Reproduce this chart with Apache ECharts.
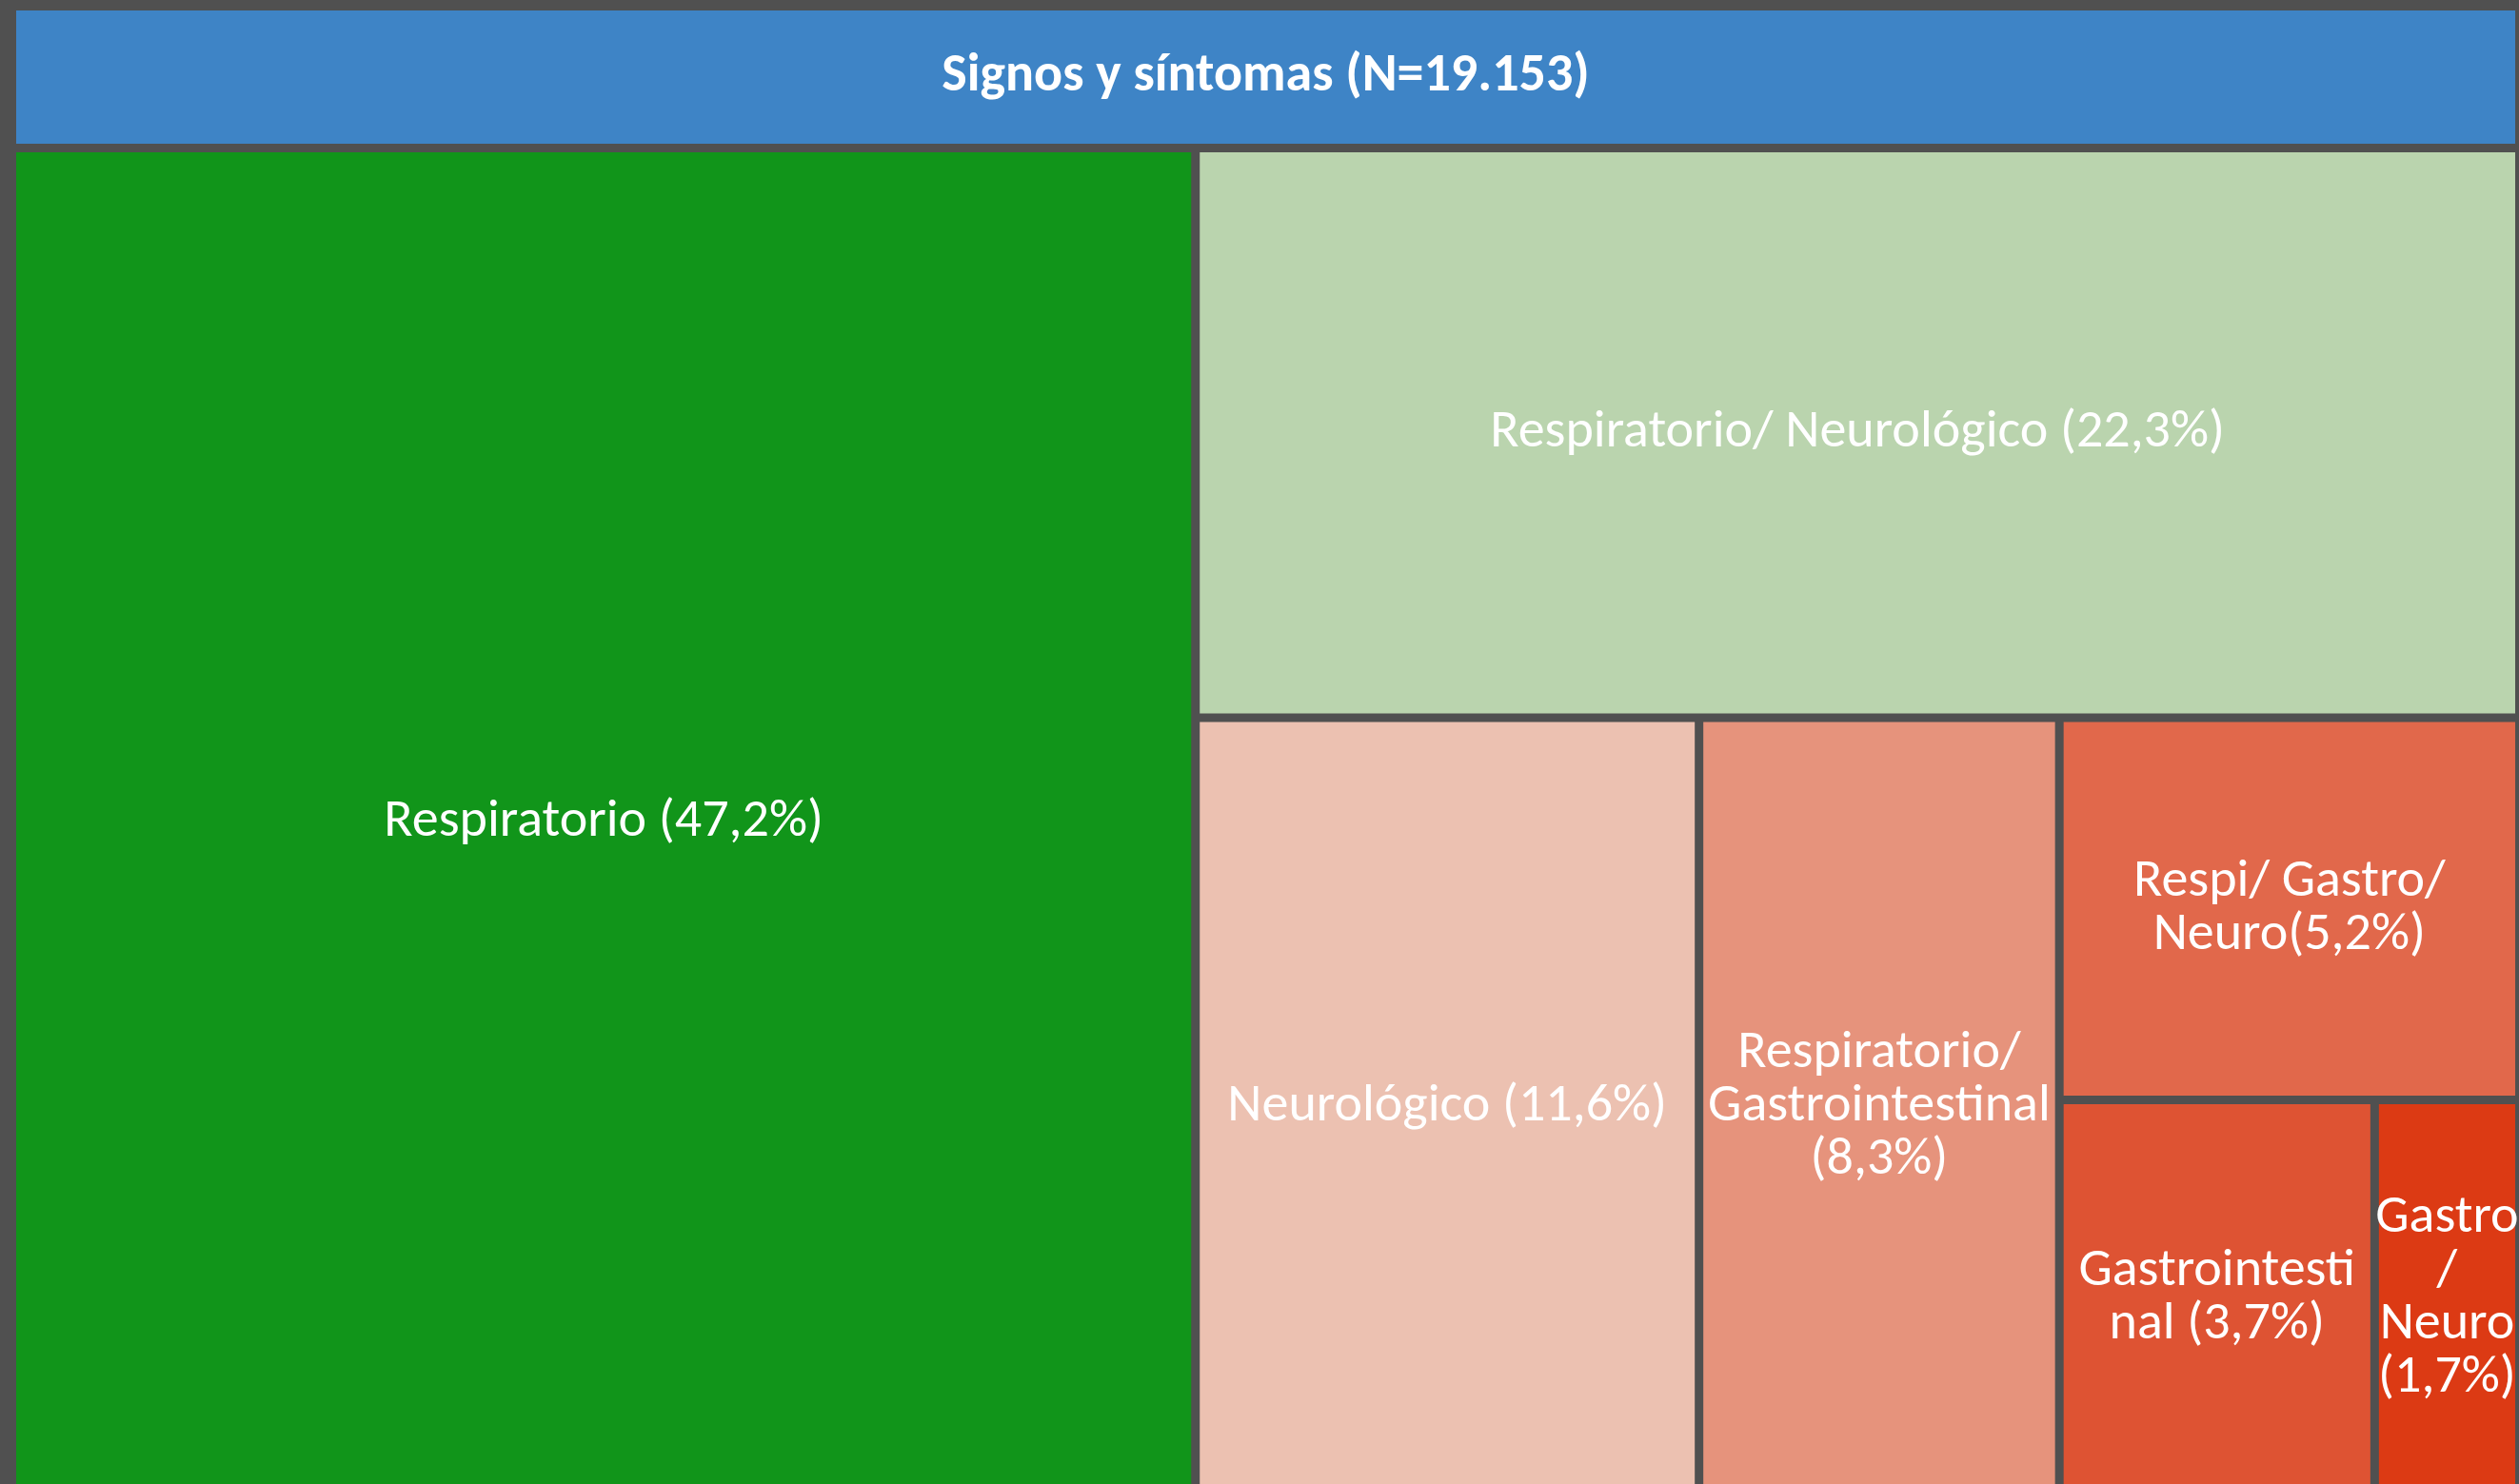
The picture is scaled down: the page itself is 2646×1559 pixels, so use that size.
<!DOCTYPE html>
<html>
<head>
<meta charset="utf-8">
<title>Signos y síntomas</title>
<script src="https://cdn.jsdelivr.net/npm/echarts@6/dist/echarts.min.js"></script>
<style>
  html, body { margin: 0; padding: 0; background: #505050; }
  #chart { width: 2646px; height: 1559px; }
</style>
</head>
<body>
<div id="chart"></div>
<script>
// datos del treemap (porcentaje de casos)
var titulo = 'Signos y síntomas (N=19.153)'
var categorias = [
    'Respiratorio (47,2%)',
    'Respiratorio/ Neurológico (22,3%)',
    'Neurológico (11,6%)',
    'Respiratorio/\nGastrointestinal\n(8,3%)',
    'Respi/ Gastro/\nNeuro(5,2%)',
    'Gastrointesti\nnal (3,7%)',
    'Gastro\n/\nNeuro\n(1,7%)'
]
var valores = [47.2, 22.3, 11.6, 8.3, 5.2, 3.7, 1.7]
var colores = ['#11951a', '#bad4ae', '#ecc1b1', '#e6937c', '#e1684b', '#de5333', '#dc3a14']

var fuente = 'Calibri, Carlito, Lato, sans-serif'
var fondo = '#505050'

var hojas = categorias.map(function (nombre, i) {
    return {
        name: nombre,
        value: valores[i],
        itemStyle: { color: colores[i], borderWidth: 0 }
    }
})

var chart = echarts.init(document.getElementById('chart'))

chart.setOption({
    backgroundColor: fondo,
    animation: false,
    series: [{
        type: 'treemap',
        left: 17,
        top: 11,
        width: 2625,
        height: 1557,
        roam: false,
        nodeClick: false,
        sort: 'desc',
        squareRatio: 0.01,
        drillDownIcon: '',
        breadcrumb: { show: false },
        itemStyle: { borderColor: fondo, borderWidth: 0, gapWidth: 0 },
        label: {
            show: true,
            position: 'inside',
            color: '#fff',
            fontFamily: fuente,
            fontSize: 56,
            lineHeight: 56,
            overflow: 'none',
            padding: 0
        },
        data: [{
            name: titulo,
            value: 100,
            itemStyle: { borderColor: '#3e84c6', borderWidth: 0, gapWidth: 0 },
            upperLabel: {
                show: true,
                height: 140,
                position: 'inside',
                align: 'center',
                verticalAlign: 'middle',
                color: '#fff',
                fontFamily: fuente,
                fontWeight: 'bold',
                fontSize: 56,
                overflow: 'none'
            },
            children: [{
                name: 'grupo',
                value: 100,
                itemStyle: { borderColor: fondo, borderWidth: 0, gapWidth: 9 },
                upperLabel: {
                    show: true,
                    height: 9,
                    formatter: function () { return '' }
                },
                children: hojas
            }]
        }]
    }]
})
</script>
</body>
</html>
